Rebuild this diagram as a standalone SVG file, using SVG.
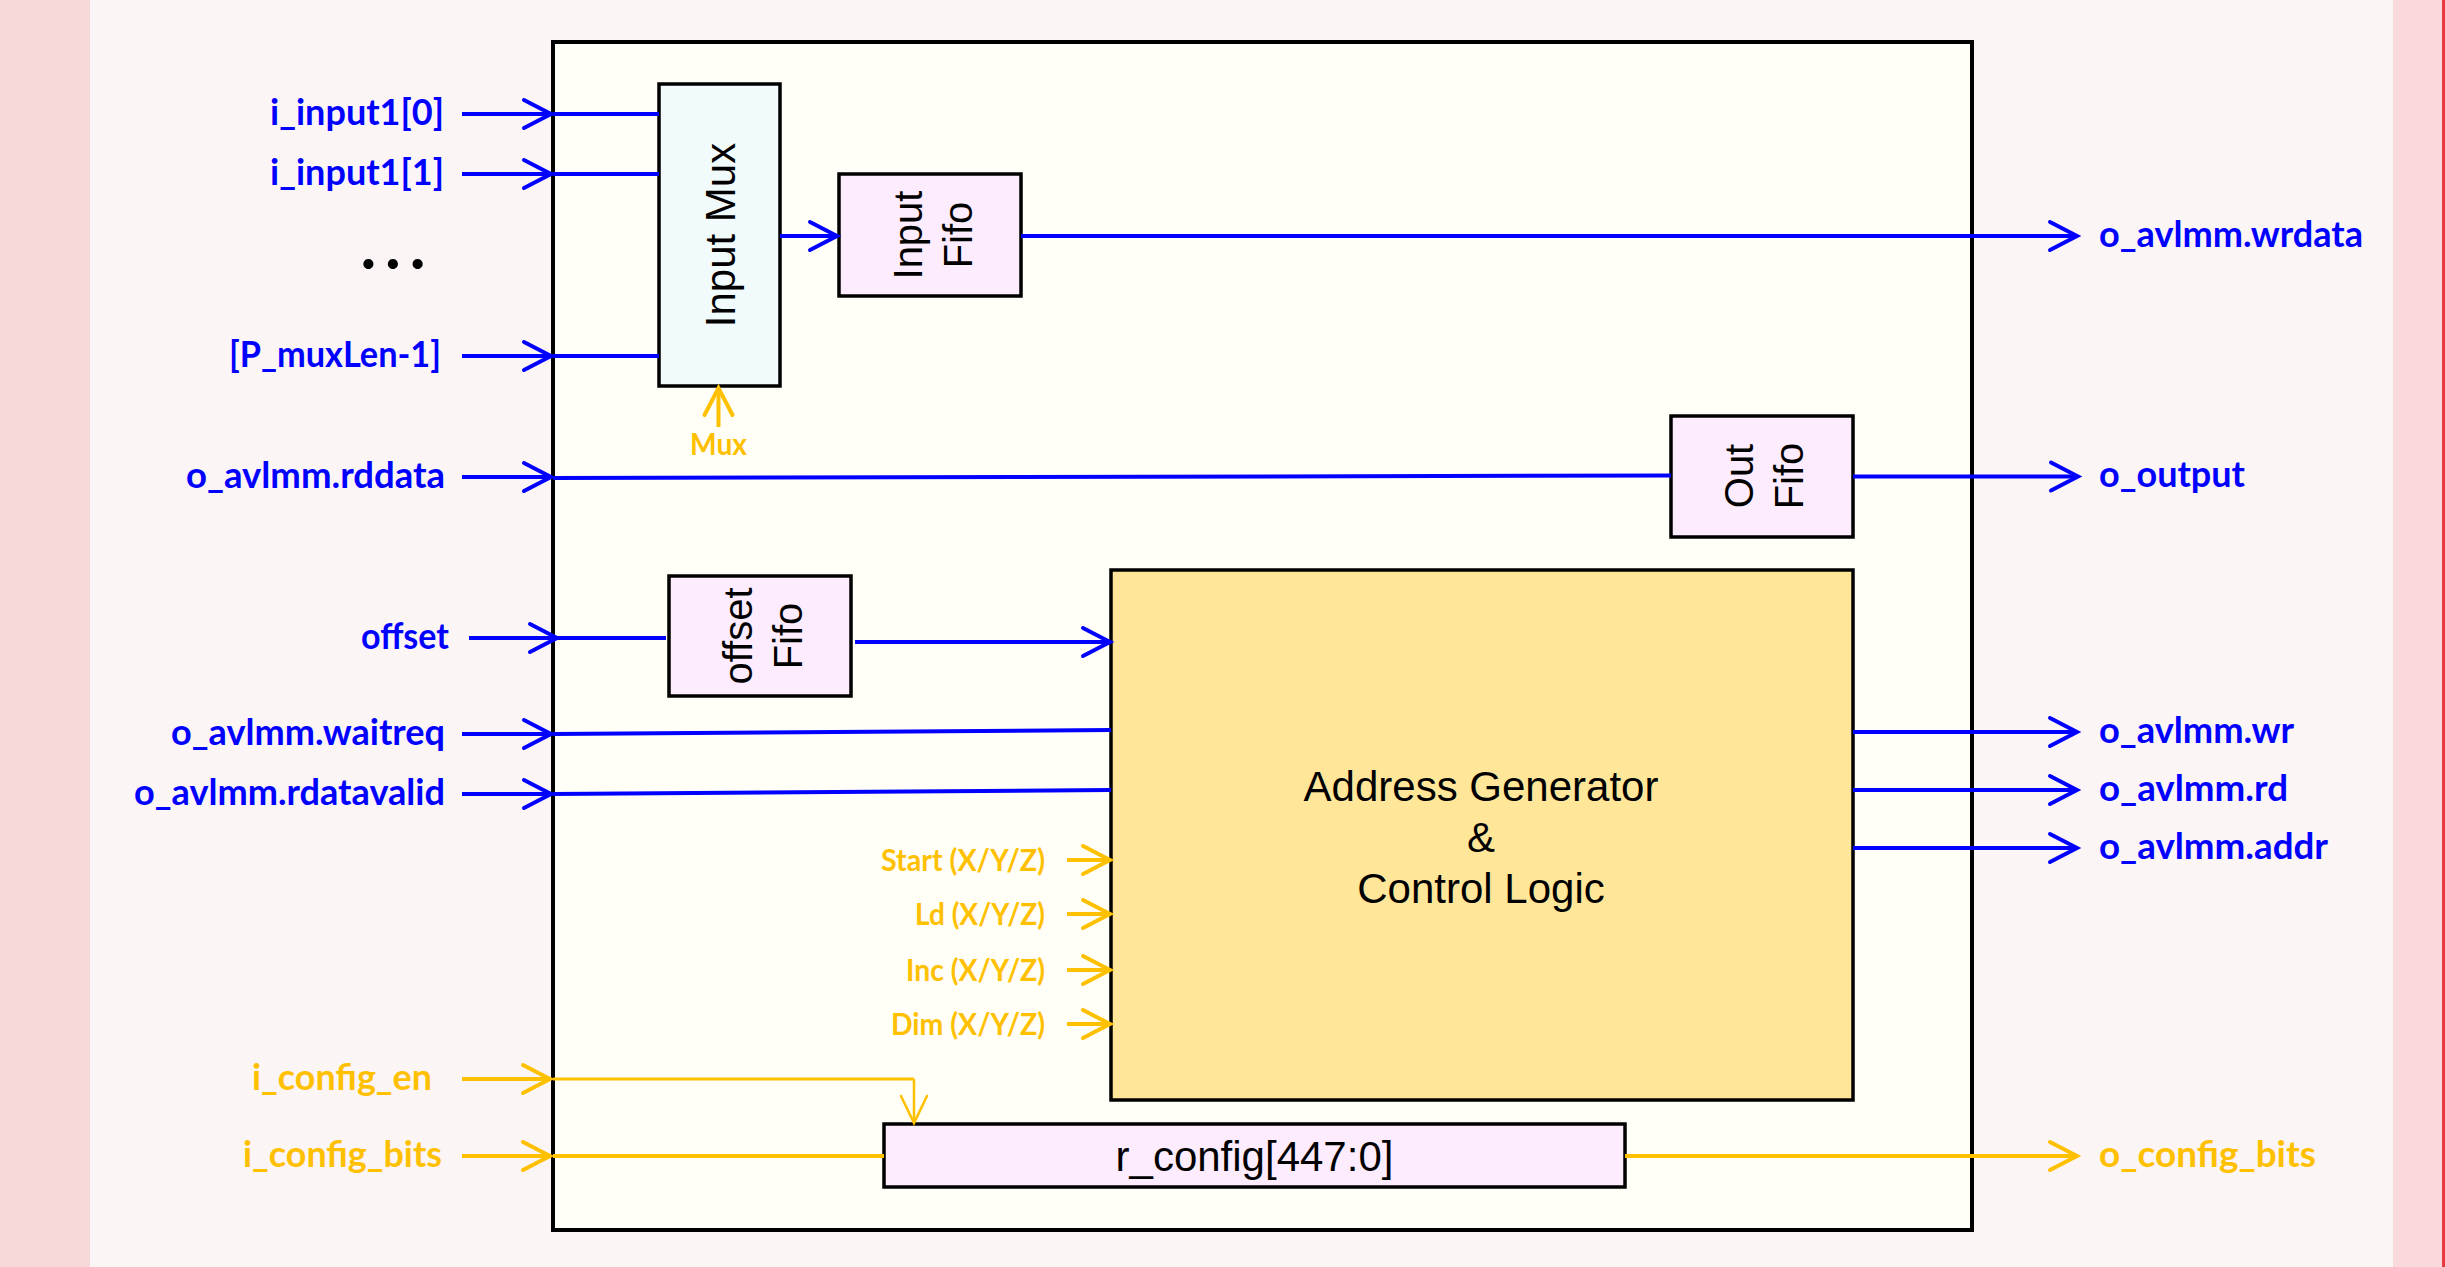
<svg xmlns="http://www.w3.org/2000/svg" width="2445" height="1267" viewBox="0 0 2445 1267">
<style>
.lbl{font-family:Lato,"Open Sans","Liberation Sans",sans-serif;font-weight:bold;font-size:36px}
.sm{font-family:Lato,"Open Sans","Liberation Sans",sans-serif;font-weight:bold;font-size:31px}
.blue{fill:#0000FF}
.yel{fill:#FFC000}
.box{stroke:#000;stroke-width:3.5}
.bt{font-family:"Liberation Sans",Arial,sans-serif;font-size:40px;fill:#000}
.bt42{font-family:"Liberation Sans",Arial,sans-serif;font-size:42px;fill:#000}
.cb{stroke:#0000FF;stroke-width:4;fill:none}
.cy{stroke:#FFC000;stroke-width:4;fill:none}
</style>
<defs>
<marker id="aB" markerUnits="userSpaceOnUse" markerWidth="34" markerHeight="34" refX="29" refY="17" orient="auto" overflow="visible">
<path d="M2 3 L29 17 L2 31" fill="none" stroke="#0000FF" stroke-width="4" stroke-linecap="round" stroke-linejoin="miter"/>
</marker>
<marker id="aY" markerUnits="userSpaceOnUse" markerWidth="34" markerHeight="34" refX="29" refY="17" orient="auto" overflow="visible">
<path d="M2 3 L29 17 L2 31" fill="none" stroke="#FFC000" stroke-width="4" stroke-linecap="round"/>
</marker>
<marker id="aYt" markerUnits="userSpaceOnUse" markerWidth="34" markerHeight="34" refX="29" refY="17" orient="auto" overflow="visible">
<path d="M2 4 L29 17 L2 30" fill="none" stroke="#FFC000" stroke-width="2.5" stroke-linecap="round"/>
</marker>
</defs>

<!-- background -->
<rect x="0" y="0" width="2445" height="1267" fill="#FCF5F6"/>
<rect x="0" y="0" width="90" height="1267" fill="#F8D9DA"/>
<rect x="2393" y="0" width="52" height="1267" fill="#F9D9DB"/>
<rect x="2442" y="0" width="3" height="1267" fill="#E83A3F"/>

<!-- outer block -->
<g id="top-block">
<rect x="553" y="42" width="1419" height="1188" fill="#FFFEF7" stroke="#000" stroke-width="4"/>
</g>

<g id="input-mux">
<rect class="box" x="659" y="84" width="121" height="302" fill="#F2FBFC"/>
<text class="bt42" transform="translate(735,235) rotate(-90)" text-anchor="middle">Input Mux</text>
</g>

<g id="input-fifo">
<rect class="box" x="839" y="174" width="182" height="122" fill="#FDECFD"/>
<text class="bt" transform="translate(930,235) rotate(-90)" text-anchor="middle"><tspan x="0" y="-8">Input</tspan><tspan x="0" y="42">Fifo</tspan></text>
</g>

<g id="out-fifo">
<rect class="box" x="1671" y="416" width="182" height="121" fill="#FDECFD"/>
<text class="bt" transform="translate(1761,476) rotate(-90)" text-anchor="middle"><tspan x="0" y="-8">Out</tspan><tspan x="0" y="42">Fifo</tspan></text>
</g>

<g id="offset-fifo">
<rect class="box" x="669" y="576" width="182" height="120" fill="#FDECFD"/>
<text class="bt" transform="translate(760,636) rotate(-90)" text-anchor="middle"><tspan x="0" y="-8">offset</tspan><tspan x="0" y="42">Fifo</tspan></text>
</g>

<g id="address-generator">
<rect class="box" x="1111" y="570" width="742" height="530" fill="#FFE699"/>
<text class="bt42" x="1481" y="801" text-anchor="middle">Address Generator</text>
<text class="bt42" x="1481" y="852" text-anchor="middle">&amp;</text>
<text class="bt42" x="1481" y="903" text-anchor="middle">Control Logic</text>
</g>

<g id="r-config">
<rect class="box" x="884" y="1124" width="741" height="63" fill="#FDECFD"/>
<text class="bt42" x="1254.5" y="1171" text-anchor="middle">r_config[447:0]</text>
</g>

<!-- connectors -->
<g id="connectors">
<line class="cb" x1="462" y1="114" x2="551" y2="114" marker-end="url(#aB)"/>
<line class="cb" x1="553" y1="114" x2="659" y2="114"/>
<line class="cb" x1="462" y1="174" x2="551" y2="174" marker-end="url(#aB)"/>
<line class="cb" x1="553" y1="174" x2="659" y2="174"/>
<line class="cb" x1="462" y1="356" x2="551" y2="356" marker-end="url(#aB)"/>
<line class="cb" x1="553" y1="356" x2="659" y2="356"/>
<line class="cb" x1="780" y1="236" x2="837" y2="236" marker-end="url(#aB)"/>
<line class="cb" x1="1021" y1="236" x2="2077" y2="236" marker-end="url(#aB)"/>
<line class="cb" x1="462" y1="477" x2="551" y2="477" marker-end="url(#aB)"/>
<line class="cb" x1="553" y1="478" x2="1671" y2="475.5"/>
<line class="cb" x1="1853" y1="476.5" x2="2078" y2="476.5" marker-end="url(#aB)"/>
<line class="cb" x1="469" y1="638" x2="557" y2="638" marker-end="url(#aB)"/>
<line class="cb" x1="557" y1="638" x2="666" y2="638"/>
<line class="cb" x1="855" y1="642" x2="1110" y2="642" marker-end="url(#aB)"/>
<line class="cb" x1="462" y1="734" x2="551" y2="734" marker-end="url(#aB)"/>
<line class="cb" x1="553" y1="734" x2="1111" y2="730"/>
<line class="cb" x1="462" y1="794" x2="551" y2="794" marker-end="url(#aB)"/>
<line class="cb" x1="553" y1="794" x2="1111" y2="790"/>
<line class="cb" x1="1853" y1="732" x2="2077" y2="732" marker-end="url(#aB)"/>
<line class="cb" x1="1853" y1="790" x2="2077" y2="790" marker-end="url(#aB)"/>
<line class="cb" x1="1853" y1="848" x2="2077" y2="848" marker-end="url(#aB)"/>
<line class="cy" x1="718.5" y1="427" x2="718.5" y2="388" marker-end="url(#aY)"/>
<line class="cy" x1="1067" y1="860" x2="1110" y2="860" marker-end="url(#aY)"/>
<line class="cy" x1="1067" y1="914" x2="1110" y2="914" marker-end="url(#aY)"/>
<line class="cy" x1="1067" y1="970" x2="1110" y2="970" marker-end="url(#aY)"/>
<line class="cy" x1="1067" y1="1024" x2="1110" y2="1024" marker-end="url(#aY)"/>
<line class="cy" x1="462" y1="1079" x2="550" y2="1079" marker-end="url(#aY)"/>
<polyline points="553,1079 914,1079" fill="none" stroke="#FFC000" stroke-width="3"/>
<line x1="914" y1="1079" x2="914" y2="1123" stroke="#FFC000" stroke-width="2.5" marker-end="url(#aYt)"/>
<line class="cy" x1="462" y1="1156" x2="550" y2="1156" marker-end="url(#aY)"/>
<line class="cy" x1="553" y1="1156" x2="884" y2="1156"/>
<line class="cy" x1="1625" y1="1156" x2="2077" y2="1156" marker-end="url(#aY)"/>
</g>

<!-- port labels -->
<g id="labels">
<text class="lbl blue" x="444" y="125" text-anchor="end" textLength="174" lengthAdjust="spacingAndGlyphs">i_input1[0]</text>
<text class="lbl blue" x="444" y="185" text-anchor="end" textLength="174" lengthAdjust="spacingAndGlyphs">i_input1[1]</text>
<text x="393" y="269" text-anchor="middle" font-family="Lato,'Liberation Sans',sans-serif" font-weight="900" font-size="62" fill="#000" textLength="64" lengthAdjust="spacing">. . .</text>
<text class="lbl blue" x="441" y="367" text-anchor="end" textLength="212" lengthAdjust="spacingAndGlyphs">[P_muxLen-1]</text>
<text class="lbl blue" x="445" y="488" text-anchor="end" textLength="259" lengthAdjust="spacingAndGlyphs">o_avlmm.rddata</text>
<text class="lbl blue" x="449" y="649" text-anchor="end" textLength="88" lengthAdjust="spacingAndGlyphs">offset</text>
<text class="lbl blue" x="445" y="745" text-anchor="end" textLength="274" lengthAdjust="spacingAndGlyphs">o_avlmm.waitreq</text>
<text class="lbl blue" x="445" y="805" text-anchor="end" textLength="311" lengthAdjust="spacingAndGlyphs">o_avlmm.rdatavalid</text>
<text class="lbl yel" x="432" y="1090" text-anchor="end" textLength="180" lengthAdjust="spacingAndGlyphs">i_config_en</text>
<text class="lbl yel" x="442" y="1167" text-anchor="end" textLength="199" lengthAdjust="spacingAndGlyphs">i_config_bits</text>

<text class="sm yel" x="718.5" y="455" text-anchor="middle" textLength="57" lengthAdjust="spacingAndGlyphs">Mux</text>
<text class="sm yel" x="1045" y="871" text-anchor="end" textLength="164" lengthAdjust="spacingAndGlyphs">Start (X/Y/Z)</text>
<text class="sm yel" x="1045" y="925" text-anchor="end" textLength="130" lengthAdjust="spacingAndGlyphs">Ld (X/Y/Z)</text>
<text class="sm yel" x="1045" y="981" text-anchor="end" textLength="139" lengthAdjust="spacingAndGlyphs">Inc (X/Y/Z)</text>
<text class="sm yel" x="1045" y="1035" text-anchor="end" textLength="154" lengthAdjust="spacingAndGlyphs">Dim (X/Y/Z)</text>

<text class="lbl blue" x="2099" y="247" textLength="264" lengthAdjust="spacingAndGlyphs">o_avlmm.wrdata</text>
<text class="lbl blue" x="2099" y="487" textLength="146" lengthAdjust="spacingAndGlyphs">o_output</text>
<text class="lbl blue" x="2099" y="743" textLength="195" lengthAdjust="spacingAndGlyphs">o_avlmm.wr</text>
<text class="lbl blue" x="2099" y="801" textLength="189" lengthAdjust="spacingAndGlyphs">o_avlmm.rd</text>
<text class="lbl blue" x="2099" y="859" textLength="229" lengthAdjust="spacingAndGlyphs">o_avlmm.addr</text>
<text class="lbl yel" x="2099" y="1167" textLength="217" lengthAdjust="spacingAndGlyphs">o_config_bits</text>
</g>
</svg>
